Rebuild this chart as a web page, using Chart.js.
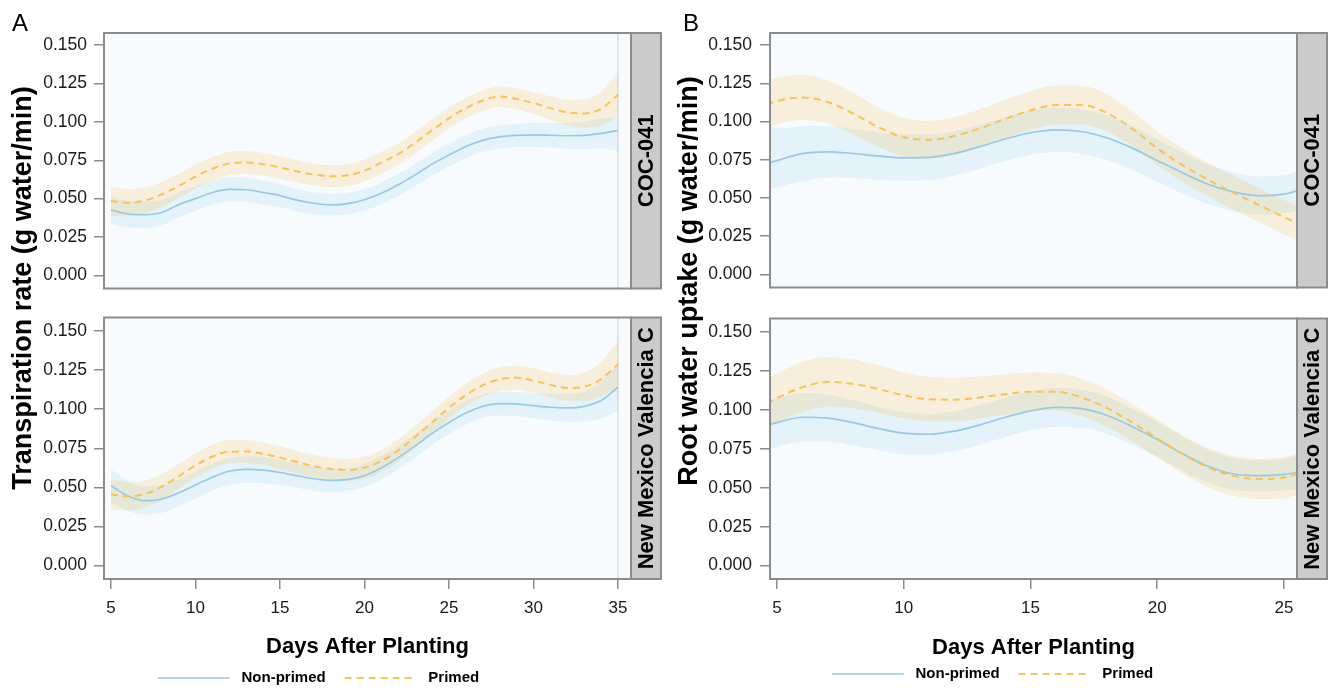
<!DOCTYPE html>
<html><head><meta charset="utf-8">
<script src="https://cdn.jsdelivr.net/npm/chart.js@4/dist/chart.umd.min.js"></script>
<style>
html,body{margin:0;padding:0;background:#fff;overflow:hidden;width:1336px;height:688px;}
#wrap{position:relative;width:1336px;height:688px;overflow:hidden;background:#fff;}
canvas{position:absolute;}
.lbl{position:absolute;font-family:"Liberation Sans",Arial,Helvetica,sans-serif;color:#000;white-space:nowrap;}
.ytitle{position:absolute;font-family:"Liberation Sans",Arial,Helvetica,sans-serif;color:#000;white-space:nowrap;font-weight:bold;font-size:27px;line-height:1;transform:translate(-50%,-50%) rotate(-90deg);}
</style></head><body>
<div id="wrap">
<canvas id="aTop" width="668" height="306" style="left:0;top:0"></canvas>
<canvas id="aBot" width="668" height="396" style="left:0;top:300px"></canvas>
<canvas id="bTop" width="668" height="306" style="left:668px;top:0"></canvas>
<canvas id="bBot" width="668" height="392" style="left:668px;top:300px"></canvas>
<div class="lbl" style="left:12px;top:9px;font-size:24px;line-height:28px">A</div>
<div class="lbl" style="left:683px;top:9px;font-size:24px;line-height:28px">B</div>
<div class="ytitle" style="left:22px;top:288px">Transpiration rate (g water/min)</div>
<div class="ytitle" style="left:688px;top:281px">Root water uptake (g water/min)</div>
</div>
<script>
// ---------- data ----------
const seriesNames = ['Non-primed', 'Primed'];
const facetNames = ['COC-041', 'New Mexico Valencia C'];
const xTitle = 'Days After Planting';
const yTicks = [0, 0.025, 0.05, 0.075, 0.1, 0.125, 0.15];
const yTickLabels = ['0.000', '0.025', '0.050', '0.075', '0.100', '0.125', '0.150'];
const xTicksA = [5, 10, 15, 20, 25, 30, 35];
const xTickLabelsA = ['5', '10', '15', '20', '25', '30', '35'];
const xTicksB = [5, 10, 15, 20, 25];
const xTickLabelsB = ['5', '10', '15', '20', '25'];
const refLineA = [35];

const daysA = [5,6,7,8,9,10,11,12,13,14,15,16,17,18,19,20,21,22,23,24,25,26,27,28,29,30,31,32,33,34,35];
const daysB = [4.6,5,6,7,8,9,10,11,12,13,14,15,16,17,18,19,20,21,22,23,24,25,25.6];

// Panel A, COC-041
const aTopNp   = [0.0425,0.040,0.0395,0.041,0.046,0.050,0.054,0.056,0.0558,0.054,0.052,0.049,0.047,0.046,0.0468,0.0493,0.0535,0.059,0.0655,0.0725,0.0785,0.084,0.088,0.0902,0.0912,0.0915,0.0913,0.091,0.0912,0.0925,0.0945];
const aTopNpLo = [0.0337,0.0314,0.0311,0.0328,0.0379,0.042,0.046,0.0481,0.048,0.0463,0.0445,0.0417,0.0399,0.039,0.0398,0.0423,0.0464,0.0518,0.0582,0.0651,0.071,0.0765,0.0805,0.0827,0.0836,0.0837,0.0833,0.0825,0.0822,0.0826,0.081];
const aTopNpHi = [0.0513,0.0486,0.0479,0.0492,0.0541,0.058,0.062,0.0639,0.0636,0.0617,0.0595,0.0563,0.0541,0.053,0.0538,0.0563,0.0606,0.0662,0.0728,0.0799,0.086,0.0915,0.0955,0.0977,0.0988,0.0993,0.0993,0.0995,0.1002,0.1024,0.103];
const aTopPr   = [0.0484,0.0473,0.0487,0.0527,0.0583,0.0644,0.0696,0.0729,0.0735,0.0724,0.0703,0.0678,0.0657,0.0646,0.0652,0.0682,0.0735,0.079,0.0865,0.0945,0.1025,0.109,0.114,0.1165,0.115,0.1122,0.109,0.1062,0.1055,0.1085,0.1177];
const aTopPrLo = [0.0389,0.0383,0.0401,0.0445,0.0503,0.0566,0.062,0.0654,0.066,0.065,0.063,0.0606,0.0585,0.0574,0.058,0.0611,0.0664,0.072,0.0795,0.0875,0.0956,0.1022,0.1073,0.1099,0.1082,0.105,0.1013,0.0979,0.0963,0.0975,0.1034];
const aTopPrHi = [0.0579,0.0563,0.0573,0.0609,0.0663,0.0722,0.0772,0.0804,0.081,0.0798,0.0776,0.075,0.0729,0.0718,0.0724,0.0753,0.0806,0.086,0.0935,0.1015,0.1094,0.1158,0.1207,0.1231,0.1218,0.1194,0.1167,0.1145,0.1147,0.1195,0.132];

// Panel A, New Mexico Valencia C
const aBotNp   = [0.051,0.0445,0.0415,0.0425,0.0465,0.0515,0.0565,0.0603,0.0615,0.061,0.0595,0.0575,0.0555,0.0545,0.055,0.0575,0.0625,0.069,0.0765,0.0845,0.0915,0.0975,0.1018,0.1035,0.1033,0.1022,0.1012,0.1008,0.1018,0.1055,0.114];
const aBotNpLo = [0.0405,0.035,0.0325,0.0337,0.0378,0.0429,0.0479,0.0517,0.053,0.0527,0.0515,0.0497,0.0477,0.0469,0.0475,0.050,0.055,0.0615,0.069,0.077,0.084,0.090,0.0943,0.096,0.0956,0.0942,0.0928,0.092,0.0923,0.094,0.099];
const aBotNpHi = [0.0615,0.054,0.0505,0.0513,0.0552,0.0601,0.0651,0.0689,0.070,0.0693,0.0675,0.0653,0.0633,0.0621,0.0625,0.065,0.070,0.0765,0.084,0.092,0.099,0.105,0.1093,0.111,0.111,0.1102,0.1096,0.1096,0.1113,0.117,0.129];
const aBotPr   = [0.0455,0.0443,0.0457,0.0503,0.057,0.064,0.0697,0.0728,0.0729,0.0714,0.069,0.0662,0.0636,0.0618,0.0611,0.0626,0.0669,0.0737,0.0822,0.0915,0.1008,0.109,0.1153,0.1191,0.120,0.1182,0.1155,0.1135,0.1143,0.1192,0.1287];
const aBotPrLo = [0.036,0.0353,0.0372,0.0421,0.049,0.0562,0.0621,0.0653,0.0655,0.0641,0.0617,0.059,0.0565,0.0547,0.054,0.0555,0.0598,0.0666,0.0752,0.0845,0.0937,0.1018,0.1079,0.1115,0.1123,0.1104,0.1075,0.1053,0.1053,0.1082,0.1142];
const aBotPrHi = [0.055,0.0533,0.0542,0.0585,0.065,0.0718,0.0773,0.0803,0.0803,0.0787,0.0763,0.0734,0.0707,0.0689,0.0682,0.0697,0.074,0.0808,0.0892,0.0985,0.1079,0.1162,0.1227,0.1267,0.1277,0.126,0.1235,0.1217,0.1233,0.1302,0.1432];

// Panel B, COC-041
const bTopNp   = [0.0725,0.0745,0.079,0.0802,0.0791,0.0775,0.0763,0.0766,0.0792,0.0836,0.0886,0.0927,0.0946,0.0935,0.0894,0.0828,0.0746,0.0665,0.059,0.054,0.0515,0.0525,0.055];
const bTopNpLo = [0.0553,0.057,0.061,0.0632,0.0631,0.062,0.0613,0.0618,0.0647,0.0692,0.0743,0.0782,0.0801,0.079,0.0749,0.0686,0.0606,0.053,0.046,0.0413,0.039,0.040,0.042];
const bTopNpHi = [0.0985,0.0955,0.097,0.0972,0.0951,0.093,0.0913,0.0914,0.0937,0.098,0.1029,0.1072,0.1091,0.108,0.1039,0.097,0.0886,0.080,0.072,0.0667,0.064,0.065,0.068];
const bTopPr   = [0.111,0.1135,0.1157,0.1128,0.1053,0.0963,0.0897,0.0881,0.0905,0.0955,0.1017,0.1073,0.1108,0.1108,0.1058,0.0955,0.0825,0.0715,0.062,0.0535,0.0455,0.0375,0.033];
const bTopPrLo = [0.0955,0.0982,0.101,0.0986,0.0917,0.0833,0.077,0.0756,0.078,0.083,0.0891,0.0946,0.098,0.0981,0.0936,0.084,0.0715,0.0605,0.051,0.0425,0.0344,0.0263,0.0216];
const bTopPrHi = [0.1265,0.1288,0.1304,0.127,0.1189,0.1093,0.1024,0.1006,0.103,0.108,0.1143,0.12,0.1236,0.1235,0.118,0.107,0.0935,0.0825,0.073,0.0645,0.0566,0.0487,0.0444];

// Panel B, New Mexico Valencia C
const bBotNp   = [0.090,0.0918,0.0952,0.0947,0.0918,0.088,0.085,0.0843,0.0863,0.0903,0.0952,0.0993,0.1015,0.1007,0.0965,0.0893,0.081,0.0718,0.0638,0.0588,0.0577,0.0585,0.060];
const bBotNpLo = [0.0745,0.0763,0.0797,0.0797,0.0773,0.074,0.0715,0.0713,0.0735,0.0776,0.0826,0.0868,0.089,0.0884,0.0845,0.0776,0.0697,0.0608,0.0532,0.0485,0.0476,0.0482,0.0492];
const bBotNpHi = [0.1055,0.1073,0.1107,0.1097,0.1063,0.102,0.0985,0.0973,0.0991,0.103,0.1078,0.1118,0.114,0.113,0.1085,0.101,0.0923,0.0828,0.0744,0.0691,0.0678,0.0688,0.0708];
const bBotPr   = [0.104,0.1075,0.1145,0.1179,0.1167,0.1133,0.1093,0.1067,0.1065,0.1079,0.110,0.1115,0.1115,0.108,0.1012,0.092,0.0816,0.0715,0.0631,0.0576,0.0556,0.0565,0.059];
const bBotPrLo = [0.088,0.0915,0.0985,0.1019,0.101,0.098,0.0945,0.0923,0.0924,0.0944,0.097,0.0991,0.0995,0.096,0.0892,0.080,0.0694,0.0591,0.0505,0.0448,0.0426,0.0433,0.0456];
const bBotPrHi = [0.120,0.1235,0.1305,0.1339,0.1324,0.1286,0.1241,0.1211,0.1206,0.1214,0.123,0.1239,0.1235,0.120,0.1132,0.104,0.0938,0.0839,0.0757,0.0704,0.0686,0.0697,0.0724];

// ---------- style ----------
const FONT = '"Liberation Sans", Arial, Helvetica, sans-serif';
const LINE_NP = '#98cbe2';
const LINE_PR = '#f7c35a';
const BAND_NP = 'rgba(160,210,235,0.22)';
const BAND_PR = 'rgba(245,195,95,0.21)';
const AXIS_GRAY = '#8c8c8c';
Chart.defaults.font.family = FONT;
Chart.defaults.color = '#1a1a1a';
Chart.defaults.animation = false;

const facetPlugin = {
  id: 'facet',
  beforeDraw(chart) {
    const {ctx, chartArea: a} = chart;
    ctx.save();
    ctx.fillStyle = '#f8fbfd';
    ctx.fillRect(a.left, a.top, a.right - a.left, a.bottom - a.top);
    ctx.restore();
  },
  afterDraw(chart, args, opts) {
    const {ctx, chartArea: a} = chart;
    const w = 30;
    ctx.save();
    ctx.lineWidth = 2;
    ctx.strokeStyle = AXIS_GRAY;
    ctx.strokeRect(a.left, a.top, a.right - a.left, a.bottom - a.top);
    ctx.fillStyle = '#cbcbcb';
    ctx.fillRect(a.right, a.top, w, a.bottom - a.top);
    ctx.strokeRect(a.right, a.top, w, a.bottom - a.top);
    ctx.translate(a.right + w / 2, (a.top + a.bottom) / 2);
    ctx.rotate(-Math.PI / 2);
    ctx.fillStyle = '#000';
    ctx.font = 'bold 22px ' + FONT;
    ctx.textAlign = 'center';
    ctx.textBaseline = 'middle';
    ctx.fillText(opts.label, 0, 1);
    ctx.restore();
  }
};

function facetChart(id, o) {
  const pts = (xs, ys) => ys.map((y, i) => ({x: xs[i], y: y}));
  const base = {pointRadius: 0, pointHoverRadius: 0, cubicInterpolationMode: 'monotone', clip: 0};
  const ds = [];
  if (o.refX) {
    o.refX.forEach(rx => ds.push({...base, cubicInterpolationMode: 'default', tension: 0,
      data: [{x: rx, y: -1}, {x: rx, y: 1}], borderColor: '#dcdcdc', borderWidth: 1.5, fill: false, order: 6}));
  }
  ds.push({...base, data: pts(o.days, o.npLo), borderWidth: 0, borderColor: 'transparent', fill: false, order: 4});
  ds.push({...base, data: pts(o.days, o.npHi), borderWidth: 0, borderColor: 'transparent', backgroundColor: BAND_NP, fill: '-1', order: 4});
  ds.push({...base, data: pts(o.days, o.prLo), borderWidth: 0, borderColor: 'transparent', fill: false, order: 3});
  ds.push({...base, data: pts(o.days, o.prHi), borderWidth: 0, borderColor: 'transparent', backgroundColor: BAND_PR, fill: '-1', order: 3});
  ds.push({...base, label: ' ' + seriesNames[0], data: pts(o.days, o.np), borderColor: LINE_NP, backgroundColor: LINE_NP, borderWidth: 1.7, fill: false, order: 2});
  ds.push({...base, label: ' ' + seriesNames[1], data: pts(o.days, o.pr), borderColor: LINE_PR, backgroundColor: LINE_PR, borderWidth: 2, borderDash: [7, 5], fill: false, order: 1});

  const gridOpts = {drawOnChartArea: false, drawTicks: true, tickLength: 10, color: AXIS_GRAY, lineWidth: 1.5};
  return new Chart(document.getElementById(id), {
    type: 'line',
    data: {datasets: ds},
    plugins: [facetPlugin],
    options: {
      responsive: false,
      animation: false,
      events: [],
      layout: {padding: o.padding},
      scales: {
        x: {
          type: 'linear', min: o.xMin, max: o.xMax, display: o.showX,
          afterBuildTicks: s => { s.ticks = o.xTicks.map(v => ({value: v})); },
          afterFit: s => { if (o.xHeight) s.height = o.xHeight; },
          ticks: {callback: (v, i) => o.xTickLabels[i], font: {size: 17}, color: '#1a1a1a', padding: 9, maxRotation: 0, autoSkip: false},
          grid: gridOpts,
          border: {display: false},
          title: {display: true, text: xTitle, color: '#000', font: {size: 22, weight: 'bold'}, padding: {top: 0, bottom: o.titlePadB || 0}}
        },
        y: {
          type: 'linear', min: o.yMin, max: o.yMax,
          afterBuildTicks: s => { s.ticks = yTicks.map(v => ({value: v})); },
          afterFit: s => { s.width = o.yWidth; },
          ticks: {callback: (v, i) => yTickLabels[i], font: {size: 17.5}, color: '#1a1a1a', padding: o.yPad, autoSkip: false},
          grid: gridOpts,
          border: {display: false}
        }
      },
      plugins: {
        facet: {label: o.facet},
        tooltip: {enabled: false},
        legend: {
          display: !!o.legend,
          position: 'bottom',
          labels: {
            usePointStyle: true, pointStyle: 'line', pointStyleWidth: 72,
            padding: 19, color: '#000', font: {size: 15, weight: 'bold'},
            generateLabels(chart) {
              const items = Chart.defaults.plugins.legend.labels.generateLabels(chart);
              items.forEach(it => {
                const d = chart.data.datasets[it.datasetIndex];
                it.lineDash = d.borderDash || [];
                it.lineWidth = d.borderWidth;
                it.strokeStyle = d.borderColor;
              });
              return items;
            },
            filter: item => !!(item.text && item.text.trim().length),
            sort: (a, b) => a.datasetIndex - b.datasetIndex
          }
        }
      }
    }
  });
}

facetChart('aTop', {days: daysA, np: aTopNp, npLo: aTopNpLo, npHi: aTopNpHi, pr: aTopPr, prLo: aTopPrLo, prHi: aTopPrHi,
  refX: refLineA, facet: facetNames[0], xMin: 4.586, xMax: 35.77, xTicks: xTicksA, xTickLabels: xTickLabelsA, showX: false,
  yMin: -0.00857, yMax: 0.15796, yWidth: 98, yPad: 7, padding: {top: 33, bottom: 1, left: 6, right: 37}, legend: false});
facetChart('aBot', {days: daysA, np: aBotNp, npLo: aBotNpLo, npHi: aBotNpHi, pr: aBotPr, prLo: aBotPrLo, prHi: aBotPrHi,
  refX: refLineA, facet: facetNames[1], xMin: 4.586, xMax: 35.77, xTicks: xTicksA, xTickLabels: xTickLabelsA, showX: true,
  xHeight: 72.5, titlePadB: -8.2,
  yMin: -0.00857, yMax: 0.15857, yWidth: 98, yPad: 7, padding: {top: 6, bottom: 0.5, left: 6, right: 37}, legend: true});
facetChart('bTop', {days: daysB, np: bTopNp, npLo: bTopNpLo, npHi: bTopNpHi, pr: bTopPr, prLo: bTopPrLo, prHi: bTopPrHi,
  facet: facetNames[0], xMin: 4.724, xMax: 25.513, xTicks: xTicksB, xTickLabels: xTickLabelsB, showX: false,
  yMin: -0.00857, yMax: 0.15796, yWidth: 82, yPad: 8, padding: {top: 33, bottom: 1, left: 20, right: 39}, legend: false});
facetChart('bBot', {days: daysB, np: bBotNp, npLo: bBotNpLo, npHi: bBotNpHi, pr: bBotPr, prLo: bBotPrLo, prHi: bBotPrHi,
  facet: facetNames[1], xMin: 4.724, xMax: 25.513, xTicks: xTicksB, xTickLabels: xTickLabelsB, showX: true,
  xHeight: 68.5, titlePadB: -13.2,
  yMin: -0.00857, yMax: 0.15857, yWidth: 82, yPad: 8, padding: {top: 6, bottom: 0.5, left: 20, right: 39}, legend: true});
</script>
</body></html>
